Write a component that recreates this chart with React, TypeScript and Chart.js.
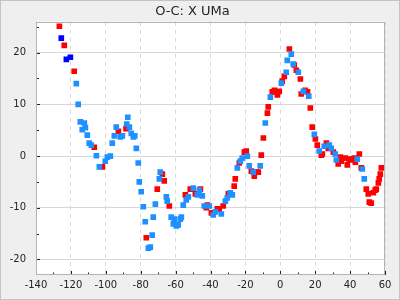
import React, { useEffect, useRef } from "react";
import { Chart, registerables } from "chart.js";

Chart.register(...registerables);

const chartTitle = "O-C: X UMa";
const xTicks = [-140, -120, -100, -80, -60, -40, -20, 0, 20, 40, 60];
const yTicks = [-20, -10, 0, 10, 20];

const redX = [-126.6, -123.8, -118.1, -106.6, -102.0, -92.8, -88.4, -76.8, -70.5, -67.6, -66.5, -63.6, -54.4, -51.6, -48.7, -45.8, -42.4, -41.8, -39.5, -36.1, -35.0, -32.7, -29.8, -26.4, -25.8, -23.5, -20.6, -19.5, -16.6, -14.9, -13.8, -12.6, -10.9, -9.7, -7.4, -6.9, -4.6, -3.4, -2.9, -1.7, -0.6, 1.1, 2.3, 5.2, 8.0, 9.2, 11.5, 12.0, 14.3, 15.6, 17.2, 18.3, 20.1, 21.2, 23.5, 24.1, 26.4, 27.5, 30.4, 33.2, 34.4, 35.0, 37.2, 38.4, 39.5, 40.7, 42.4, 43.0, 45.3, 46.4, 49.3, 50.4, 51.0, 52.1, 53.3, 54.4, 55.0, 56.2, 56.7, 57.3, 57.9];
const redY = [25.1, 21.4, 16.4, 1.7, -2.1, 4.8, 5.3, -15.8, -6.4, -3.5, -4.8, -9.65, -7.5, -6.4, -7.3, -6.4, -10.0, -9.5, -11.0, -10.2, -10.2, -9.65, -7.3, -5.8, -4.4, -1.35, 0.77, 0.97, -2.9, -3.9, -3.1, -3.1, 0.19, 3.5, 8.3, 9.5, 12.4, 12.7, 12.4, 11.8, 12.5, 14.5, 15.4, 20.7, 17.6, 16.6, 14.9, 12.0, 12.7, 12.4, 9.3, 5.6, 3.3, 2.1, 0.19, 0.4, 2.5, 1.5, 0.77, -1.5, -0.2, -0.97, -0.4, -1.7, -0.6, -0.77, -0.4, -1.2, 0.4, -2.3, -6.4, -7.3, -8.9, -9.1, -7.1, -6.6, -6.4, -5.2, -4.4, -3.5, -2.3];

const lightX = [-116.9, -115.8, -114.6, -113.5, -112.3, -111.7, -110.6, -109.5, -108.3, -105.4, -103.7, -100.3, -99.1, -97.4, -96.3, -95.1, -94.0, -91.7, -90.5, -87.4, -88.0, -86.5, -85.4, -84.2, -83.4, -82.5, -81.4, -80.8, -79.7, -78.5, -77.4, -75.6, -74.5, -73.4, -72.8, -71.6, -69.3, -68.8, -65.3, -64.8, -62.5, -61.3, -60.7, -59.6, -58.5, -57.3, -56.7, -55.6, -53.9, -52.7, -49.9, -47.6, -46.4, -44.7, -43.6, -40.7, -38.4, -37.2, -33.8, -31.5, -30.4, -28.7, -27.5, -24.6, -22.9, -21.8, -18.9, -17.8, -15.5, -11.5, -8.6, -5.7, 0.6, 3.4, 4.0, 6.3, 7.4, 10.3, 13.2, 16.3, 19.5, 22.3, 25.2, 28.1, 29.2, 31.5, 32.1, 44.1, 47.0, 48.1];
const lightY = [14.0, 10.0, 6.6, 5.1, 6.4, 5.5, 4.05, 2.5, 2.1, 0.06, -2.1, -1.0, -0.2, 0.0, 2.5, 3.9, 5.6, 3.7, 3.9, 7.5, 6.2, 5.6, 4.4, 3.7, 3.9, 1.5, -1.35, -5.0, -6.9, -9.8, -12.7, -17.8, -17.6, -15.3, -11.8, -9.3, -4.4, -3.1, -7.9, -8.7, -11.8, -13.1, -12.2, -13.5, -13.3, -12.2, -11.8, -9.5, -8.5, -7.9, -6.2, -7.5, -6.6, -7.7, -9.65, -9.65, -11.4, -10.8, -11.2, -8.7, -8.1, -7.1, -7.5, -2.3, -0.97, -0.4, 0.0, -1.9, -3.1, -1.9, 6.4, 11.4, 14.1, 16.2, 18.5, 19.7, 17.8, 16.2, 12.5, 11.6, 4.2, 0.97, 1.9, 2.1, 1.5, 0.4, -0.77, -0.6, -2.5, -4.4];

const darkX = [-125.5, -122.6, -120.3];
const darkY = [22.8, 18.7, 19.1];

const zip = (xs: number[], ys: number[]) => xs.map((x, i) => ({ x, y: ys[i] }));

const frame = {
  id: "frame",
  beforeDraw(chart: any) {
    const { ctx, width, height, chartArea: a } = chart;
    ctx.save();
    ctx.fillStyle = "#efefef";
    ctx.fillRect(0, 0, width, height);
    ctx.strokeStyle = "#c4c4c4";
    ctx.lineWidth = 1;
    ctx.strokeRect(0.5, 0.5, width - 1, height - 1);
    ctx.fillStyle = "#ffffff";
    ctx.fillRect(a.left, a.top, a.right - a.left, a.bottom - a.top);
    ctx.restore();
  },
  afterDraw(chart: any) {
    const { ctx, chartArea: a, scales } = chart;
    const xs = scales.x;
    const ys = scales.y;
    ctx.save();
    ctx.strokeStyle = "#222";
    ctx.lineWidth = 1;
    ctx.beginPath();
    for (let v = -140; v <= 60; v += 10) {
      const px = Math.round(xs.getPixelForValue(v)) + 0.5;
      const len = v % 20 === 0 ? 4 : 2.5;
      ctx.moveTo(px, a.bottom);
      ctx.lineTo(px, a.bottom - len);
    }
    for (let v = -20; v <= 25; v += 5) {
      const py = Math.round(ys.getPixelForValue(v)) + 0.5;
      const len = v % 10 === 0 ? 4 : 3;
      ctx.moveTo(a.left, py);
      ctx.lineTo(a.left + len, py);
    }
    ctx.stroke();
    ctx.strokeStyle = "#b4b4b4";
    ctx.strokeRect(Math.round(a.left) + 0.5, Math.round(a.top) + 0.5, Math.round(a.right - a.left) - 1, Math.round(a.bottom - a.top) - 1);
    ctx.restore();
  },
};

export default function App() {
  const ref = useRef<HTMLCanvasElement | null>(null);
  useEffect(() => {
    if (!ref.current) return;
    const pt = { pointStyle: "rect", pointRadius: 4, pointBorderWidth: 0, showLine: false };
    const chart = new Chart(ref.current, {
      type: "scatter",
      data: {
        datasets: [
          { label: "light", data: zip(lightX, lightY), backgroundColor: "#1e90ff", borderColor: "#1e90ff", ...pt },
          { label: "dark", data: zip(darkX, darkY), backgroundColor: "#0000ff", borderColor: "#0000ff", ...pt },
          { label: "red", data: zip(redX, redY), backgroundColor: "#ff0000", borderColor: "#ff0000", ...pt },
        ],
      } as any,
      options: {
        animation: false,
        responsive: false,
        devicePixelRatio: 1,
        layout: { padding: { left: 0, right: 15, top: 0, bottom: 0 } },
        plugins: {
          legend: { display: false },
          tooltip: { enabled: false },
          title: {
            display: true,
            text: chartTitle,
            color: "#222",
            font: { family: "DejaVu Sans", size: 13, weight: "normal" },
            padding: { top: 4, bottom: 2 },
          },
        },
        scales: {
          x: {
            type: "linear",
            min: -140,
            max: 60,
            afterBuildTicks: (s: any) => { s.ticks = xTicks.map((v) => ({ value: v })); },
            afterFit: (s: any) => { s.height = 25; },
            grid: { color: "#d8d8d8", lineWidth: 1, drawTicks: false },
            border: { display: false, dash: [4, 4] },
            ticks: { color: "#222", font: { family: "DejaVu Sans", size: 10 }, padding: 4, maxRotation: 0, autoSkip: false },
          },
          y: {
            type: "linear",
            min: -23,
            max: 26,
            afterBuildTicks: (s: any) => { s.ticks = yTicks.map((v) => ({ value: v })); },
            afterFit: (s: any) => { s.width = 36; },
            grid: { color: "#d8d8d8", lineWidth: 1, drawTicks: false },
            border: { display: false },
            ticks: { color: "#222", font: { family: "DejaVu Sans", size: 10 }, padding: 10, autoSkip: false },
          },
        },
      } as any,
      plugins: [frame],
    });
    return () => chart.destroy();
  }, []);
  return (
    <div style={{ position: "absolute", left: 0, top: 0, width: 400, height: 300 }}>
      <canvas ref={ref} width={400} height={300} style={{ display: "block" }} />
    </div>
  );
}
